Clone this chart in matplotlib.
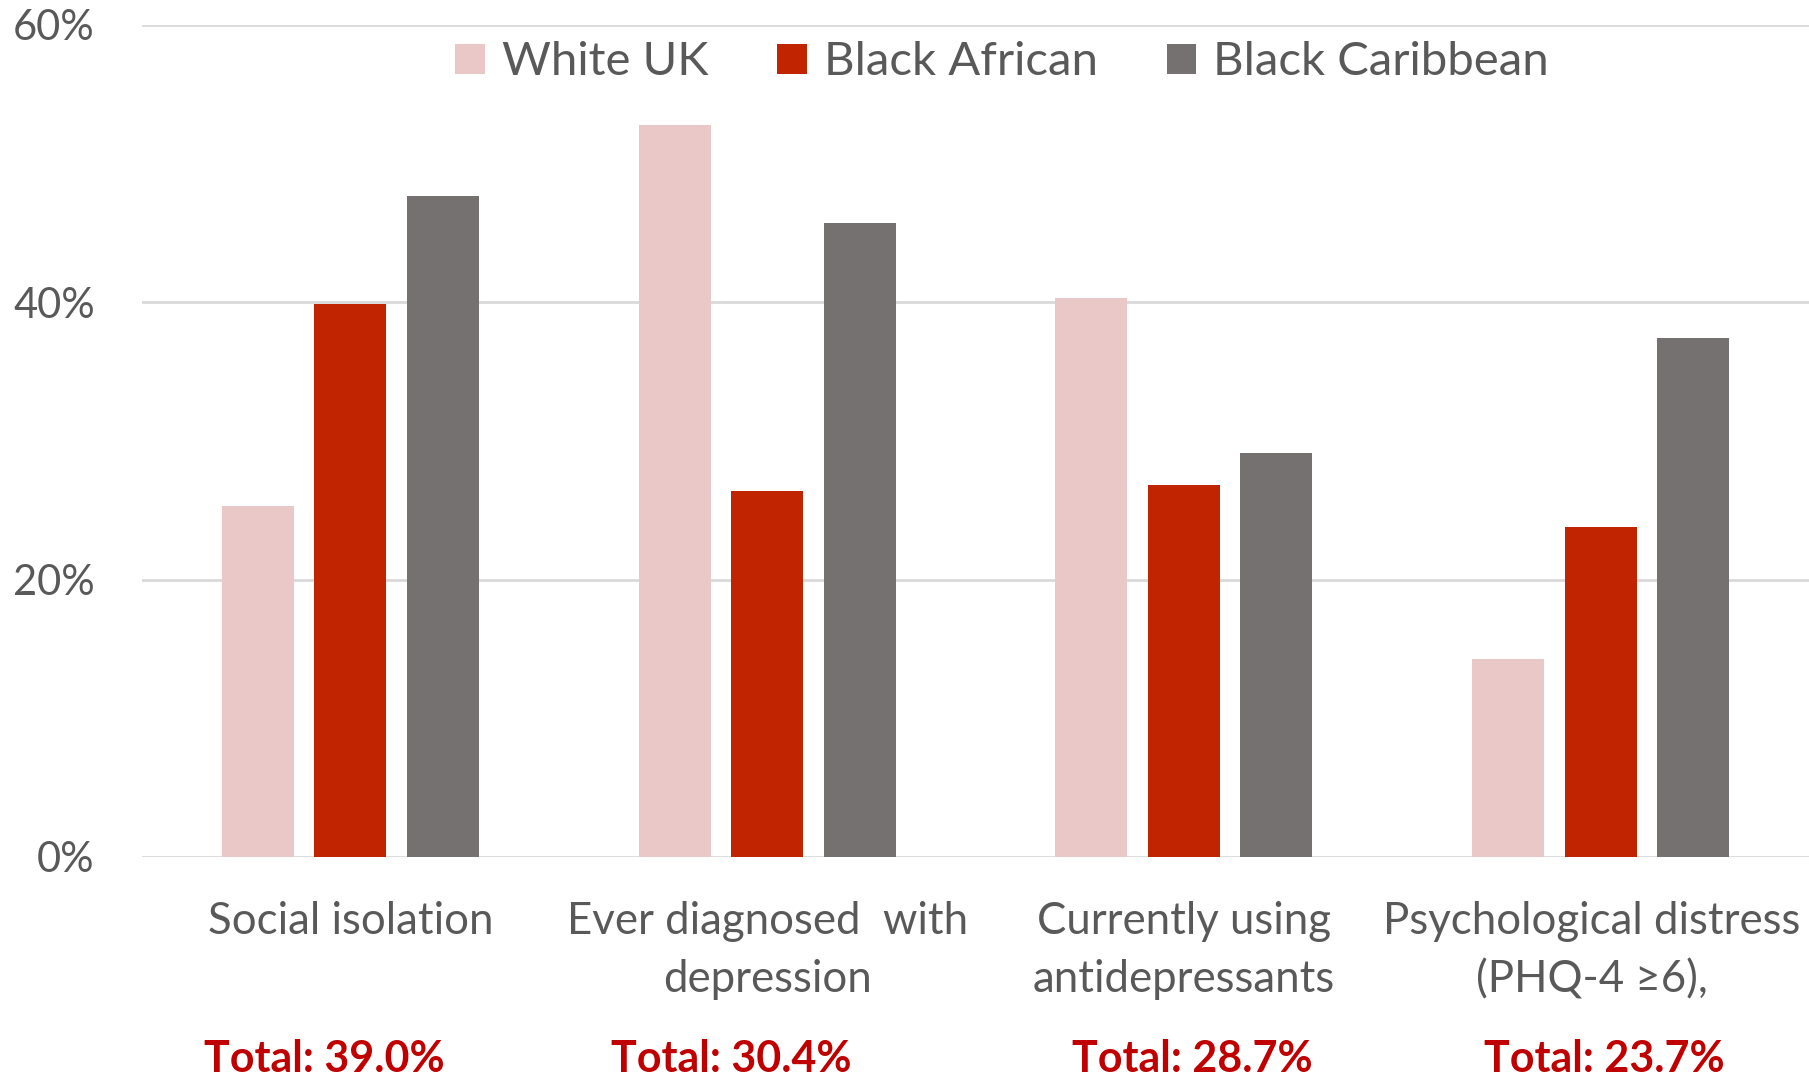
import numpy as np
import matplotlib
matplotlib.use("Agg")
import matplotlib.pyplot as plt
from matplotlib.patches import Patch
from matplotlib.transforms import ScaledTranslation

plt.rcParams['font.family'] = ['Lato', 'DejaVu Sans']

categories = ["Social isolation", "Ever diagnosed  with\ndepression",
              "Currently using\nantidepressants", "Psychological distress\n(PHQ-4 \u22656),"]
groups = ["White UK", "Black African", "Black Caribbean"]
white_uk = [25.3, 52.8, 40.3, 14.3]
black_african = [39.9, 26.4, 26.8, 23.8]
black_caribbean = [47.7, 45.7, 29.1, 37.4]
totals = [39.0, 30.4, 28.7, 23.7]

colors = ["#ebc8c8", "#c02400", "#757171"]
text_grey = "#595959"

fig = plt.figure(figsize=(18.09, 10.77), dpi=100)
ax = fig.add_axes([0.0785, 0.2043, 0.9215, 0.7725])

x = np.arange(len(categories))
width = 0.173
step = 0.222
for i, (vals, col) in enumerate(zip([white_uk, black_african, black_caribbean], colors)):
    ax.bar(x + (i - 1) * step, vals, width, color=col, zorder=3)

ax.set_xlim(-0.5, 3.5)
ax.set_ylim(0, 60)
ax.set_yticks([0, 20, 40, 60])
ax.set_yticklabels(["0%", "20%", "40%", "60%"])
ax.yaxis.grid(True, color="#d9d9d9", linewidth=2.0, zorder=0)
ax.set_axisbelow(True)
for s in ax.spines.values():
    s.set_visible(False)
ax.tick_params(axis="y", length=0, pad=34, labelsize=30, labelcolor=text_grey)
ax.tick_params(axis="x", length=0, pad=32, labelsize=31.5, labelcolor=text_grey)
ax.set_xticks(x)
ax.set_xticklabels(categories, linespacing=1.5)

# nudge the last label left so it stays inside the figure
last = ax.get_xticklabels()[-1]
last.set_transform(last.get_transform() + ScaledTranslation(-0.09, 0, fig.dpi_scale_trans))

# totals under each category, slightly shifted like the source layout
total_x = [-0.062, 0.914, 2.02, 3.01]
for tx, t in zip(total_x, totals):
    ax.text(tx, -0.243, f"Total: {t:.1f}%", transform=ax.get_xaxis_transform(),
            ha="center", va="center", fontsize=31, fontweight="bold", color="#c00000")

handles = [Patch(facecolor=c, edgecolor="none") for c in colors]
leg = fig.legend(handles, groups, loc="center", bbox_to_anchor=(0.554, 0.942), ncol=3,
                 frameon=False, fontsize=34, handlelength=0.62, handleheight=0.62,
                 handletextpad=0.36, columnspacing=1.47)
for t in leg.get_texts():
    t.set_color(text_grey)

fig.savefig("out.png", dpi=100)
